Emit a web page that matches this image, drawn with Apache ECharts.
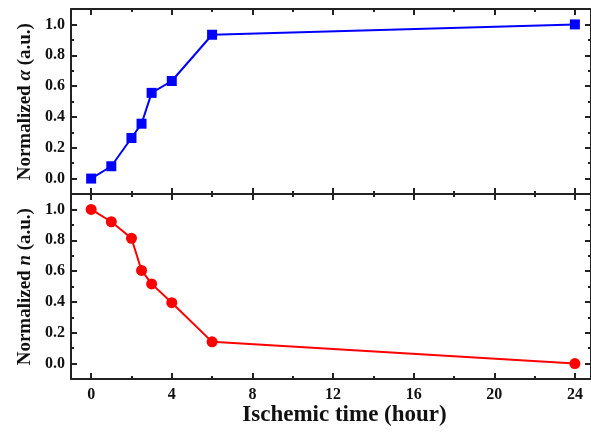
<!DOCTYPE html>
<html>
<head>
<meta charset="utf-8">
<script src="https://cdn.jsdelivr.net/npm/echarts@6/dist/echarts.min.js"></script>
<style>html,body{margin:0;padding:0;background:#fff}#c{width:591px;height:432px}</style>
</head>
<body>
<div id="c"></div>
<script>
// ---- data ----
const hours = [0, 1, 2, 2.5, 3, 4, 6, 24];
const alphaValues = [0.0, 0.08, 0.263, 0.356, 0.556, 0.633, 0.933, 1.0];
const nValues = [1.0, 0.92, 0.813, 0.604, 0.517, 0.395, 0.141, 0.0];
const xMajorTicks = [0, 4, 8, 12, 16, 20, 24];
const xMinorTicks = [2, 6, 10, 14, 18, 22];
const yMajorTicks = [0, 0.2, 0.4, 0.6, 0.8, 1.0];
const yMinorTicks = [0.1, 0.3, 0.5, 0.7, 0.9];
const xTitle = 'Ischemic time (hour)';
const yTitleTop = ['Normalized ', 'α', ' (a.u.)'];
const yTitleBottom = ['Normalized ', 'n', ' (a.u.)'];

const FONT = '"Liberation Serif", "Times New Roman", serif';
const AX = '#222';
const XMIN = -1, XMAX = 24.8, YMIN = -0.1, YMAX = 1.1;

function xAx(grid, pos, ticks, len, showLine, labels, name) {
  const a = {
    type: 'value', gridIndex: grid, position: pos, min: XMIN, max: XMAX,
    axisLine: { show: showLine, onZero: false, lineStyle: { color: AX, width: 2 } },
    axisTick: { show: true, inside: true, length: len, customValues: ticks, lineStyle: { color: AX, width: 2 } },
    axisLabel: labels ? { show: true, customValues: ticks, margin: 8, color: '#111', fontFamily: FONT, fontWeight: 'bold', fontSize: 16 } : { show: false },
    splitLine: { show: false }
  };
  if (name) {
    a.name = name; a.nameLocation = 'middle'; a.nameGap = 24;
    a.nameTextStyle = { fontFamily: FONT, fontWeight: 'bold', fontSize: 23, color: '#111', padding: [0, 0, 0, 27] };
  }
  return a;
}
function yAx(grid, pos, ticks, len, showLine, labels) {
  return {
    type: 'value', gridIndex: grid, position: pos, min: YMIN, max: YMAX,
    axisLine: { show: showLine, onZero: false, lineStyle: { color: AX, width: 2 } },
    axisTick: { show: true, inside: true, length: len, customValues: ticks, lineStyle: { color: AX, width: 2 } },
    axisLabel: labels ? { show: true, customValues: ticks, margin: 6, color: '#111', fontFamily: FONT, fontWeight: 'bold', fontSize: 16, formatter: v => v.toFixed(1) } : { show: false },
    splitLine: { show: false }
  };
}
function yTitle(parts, cy) {
  return {
    type: 'text', x: 25.5, y: cy, rotation: Math.PI / 2, z: 10,
    style: {
      text: '{b|' + parts[0] + '}{i|' + parts[1] + '}{b|' + parts[2] + '}',
      align: 'center', verticalAlign: 'middle',
      font: 'bold 19px "Liberation Serif"', fill: '#111',
      rich: {
        b: { font: 'bold 19px "Liberation Serif"', fill: '#111' },
        i: { font: 'italic bold 19px "Liberation Serif"', fill: '#111' }
      }
    }
  };
}

const option = {
  animation: false,
  backgroundColor: '#fff',
  grid: [
    { left: 71, top: 9, width: 523, height: 185 },
    { left: 71, top: 194, width: 523, height: 185 }
  ],
  xAxis: [
    xAx(0, 'bottom', xMajorTicks, 6, true, false),
    xAx(0, 'bottom', xMinorTicks, 3, false, false),
    xAx(0, 'top', xMajorTicks, 6, true, false),
    xAx(0, 'top', xMinorTicks, 3, false, false),
    xAx(1, 'bottom', xMajorTicks, 6, true, true, xTitle),
    xAx(1, 'bottom', xMinorTicks, 3, false, false),
    xAx(1, 'top', xMajorTicks, 6, true, false),
    xAx(1, 'top', xMinorTicks, 3, false, false)
  ],
  yAxis: [
    yAx(0, 'left', yMajorTicks, 6, true, true),
    yAx(0, 'left', yMinorTicks, 3, false, false),
    yAx(0, 'right', yMajorTicks, 6, true, false),
    yAx(0, 'right', yMinorTicks, 3, false, false),
    yAx(1, 'left', yMajorTicks, 6, true, true),
    yAx(1, 'left', yMinorTicks, 3, false, false),
    yAx(1, 'right', yMajorTicks, 6, true, false),
    yAx(1, 'right', yMinorTicks, 3, false, false)
  ],
  graphic: [
    yTitle(yTitleTop, 101.7),
    yTitle(yTitleBottom, 286.7)
  ],
  series: [
    {
      type: 'line', xAxisIndex: 0, yAxisIndex: 0,
      data: hours.map((h, i) => [h, alphaValues[i]]),
      symbol: 'rect', symbolSize: 10,
      lineStyle: { color: '#0000ff', width: 2 },
      itemStyle: { color: '#0000ff' }, z: 5
    },
    {
      type: 'line', xAxisIndex: 4, yAxisIndex: 4,
      data: hours.map((h, i) => [h, nValues[i]]),
      symbol: 'circle', symbolSize: 11,
      lineStyle: { color: '#ff0000', width: 2 },
      itemStyle: { color: '#ff0000' }, z: 5
    }
  ]
};
echarts.init(document.getElementById('c'), null, { renderer: 'canvas' }).setOption(option);
</script>
</body>
</html>
